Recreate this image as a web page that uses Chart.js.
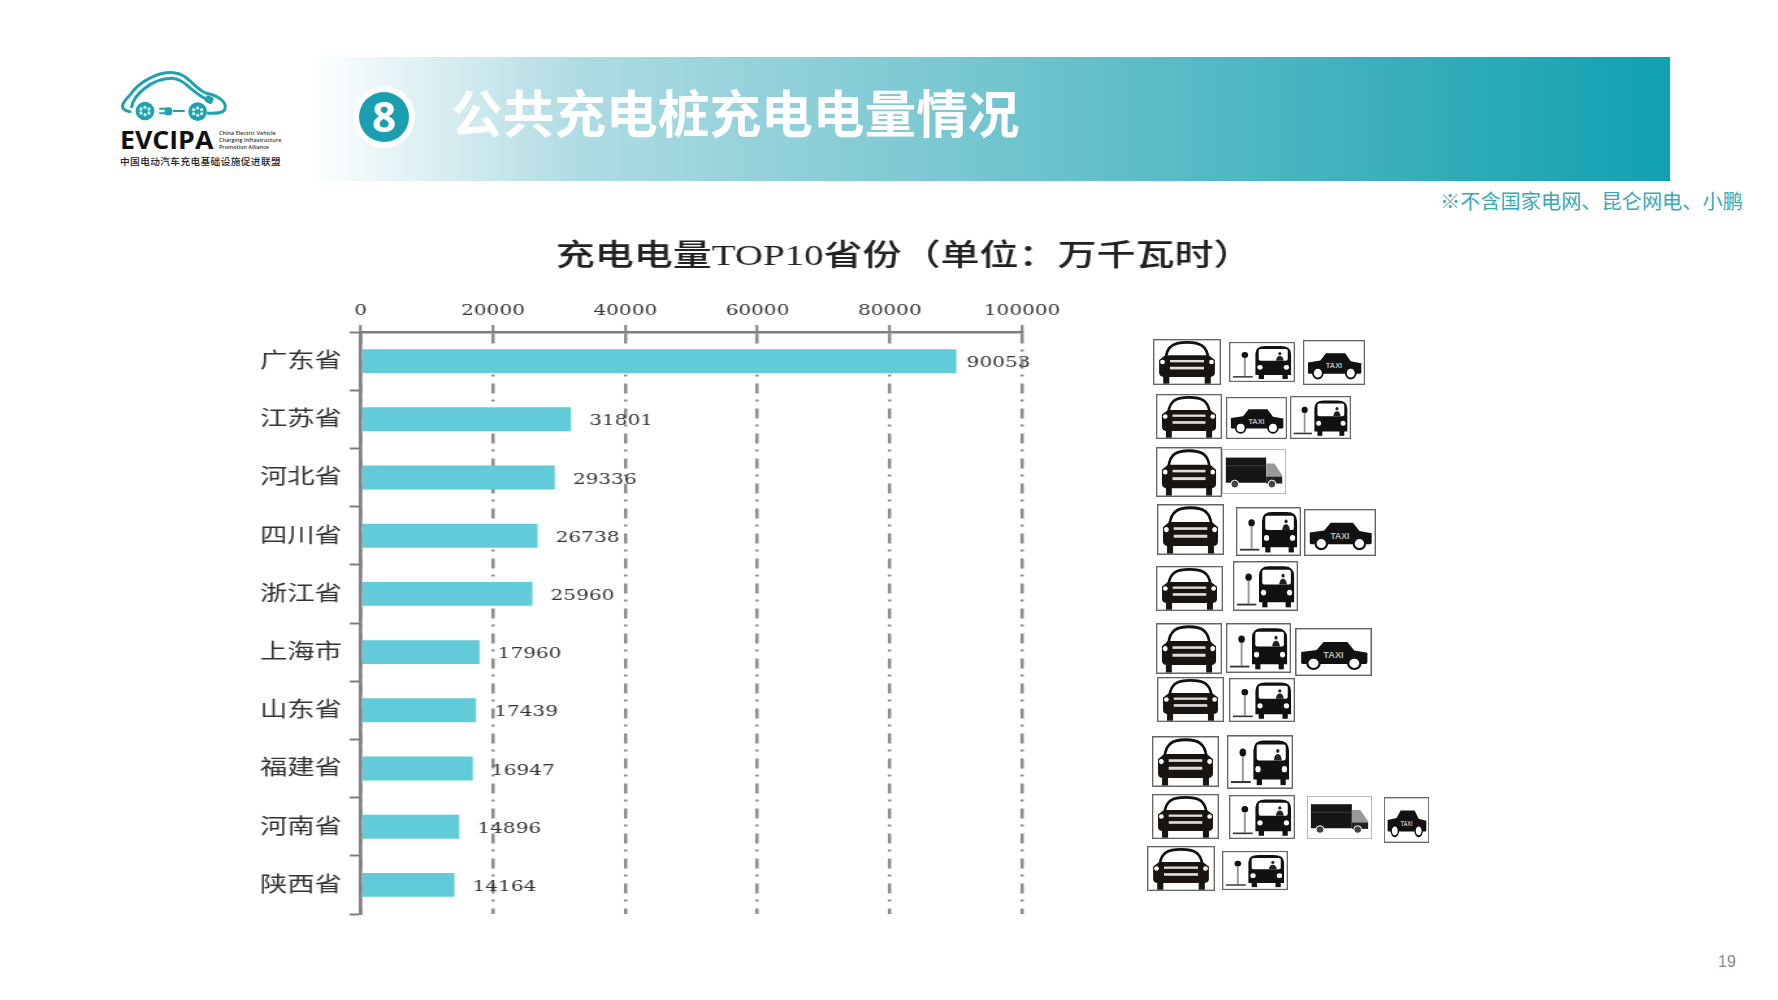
<!DOCTYPE html>
<html lang="zh-CN">
<head>
<meta charset="utf-8">
<title>公共充电桩充电电量情况</title>
<script src="https://cdn.jsdelivr.net/npm/chart.js@4"></script>
<style>
    html, body { margin: 0; width: 1778px; height: 1000px; background: #fff; overflow: hidden; }
    #slide { position: absolute; left: 0; top: 0; }
    #chartWrap { position: absolute; left: 0; top: 0; transform: scaleX(1.3); transform-origin: 0 0; }
    .cjk { font-family: "Noto Sans CJK SC", sans-serif; }
</style>
</head>
<body>
<svg id="slide" width="1778" height="1000" viewBox="0 0 1778 1000" xmlns="http://www.w3.org/2000/svg">
    <defs>
        <linearGradient id="headerFill" x1="0" x2="1" y1="0" y2="0">
            <stop offset="0" stop-color="#ffffff"/>
            <stop offset="0.2" stop-color="#aedbe3"/>
            <stop offset="0.8" stop-color="#38afbb"/>
            <stop offset="1" stop-color="#10a1b1"/>
        </linearGradient>

        <symbol id="car" viewBox="0 0 100 68" preserveAspectRatio="none">
            <rect x="1" y="1" width="98" height="66" fill="#fff" stroke="#666" stroke-width="2"/>
            <path d="M19 27C21 10 31 5 50 5C69 5 79 10 81 27" fill="#fff" stroke="#111" stroke-width="4"/>
            <path d="M18 24H82L91 31V50Q91 55 85 56H15Q9 55 9 50V31Z" fill="#1a1410"/>
            <rect x="15" y="54" width="9" height="12" fill="#1a1410"/>
            <rect x="76" y="54" width="9" height="12" fill="#1a1410"/>
            <circle cx="14" cy="34" r="3.5" fill="#fff"/>
            <circle cx="86" cy="34" r="3.5" fill="#fff"/>
            <rect x="25" y="31" width="50" height="3.5" fill="#ddd"/>
            <rect x="25" y="41" width="50" height="4" fill="#ddd"/>
        </symbol>

        <symbol id="bus" viewBox="0 0 100 68" preserveAspectRatio="none">
            <rect x="1" y="1" width="98" height="66" fill="#fff" stroke="#666" stroke-width="2"/>
            <circle cx="24" cy="22" r="5" fill="#111"/>
            <rect x="22.5" y="27" width="3" height="31" fill="#999"/>
            <rect x="6" y="58" width="30" height="2.5" fill="#333"/>
            <path d="M40 20Q40 7 55 7H78Q94 7 94 20V56H40Z" fill="#111"/>
            <rect x="45" y="12" width="44" height="20" rx="3" fill="#fff"/>
            <circle cx="77" cy="20" r="2.5" fill="#222"/>
            <path d="M71 32Q72 24 77 24Q82 24 83 32Z" fill="#222"/>
            <rect x="45" y="54" width="8" height="9" fill="#111"/>
            <rect x="81" y="54" width="8" height="9" fill="#111"/>
            <circle cx="47" cy="43" r="4" fill="#fff"/>
            <circle cx="87" cy="43" r="4" fill="#fff"/>
        </symbol>

        <symbol id="taxi" viewBox="0 0 100 68" preserveAspectRatio="none">
            <rect x="1" y="1" width="98" height="66" fill="#fff" stroke="#666" stroke-width="2"/>
            <path d="M8 34L28 31L37 20H68L77 32L94 35V49Q94 51 92 51H10Q8 51 8 49Z" fill="#111"/>
            <circle cx="24" cy="50" r="8" fill="#fff" stroke="#111" stroke-width="3"/>
            <circle cx="77" cy="50" r="8" fill="#fff" stroke="#111" stroke-width="3"/>
            <text x="50" y="43" text-anchor="middle" font-size="12" font-family="Liberation Sans" font-weight="700" fill="#bbb">TAXI</text>
        </symbol>

        <symbol id="truck" viewBox="0 0 100 68" preserveAspectRatio="none">
            <rect x="0.5" y="0.5" width="99" height="67" fill="#fff" stroke="#aaa" stroke-width="1.5"/>
            <rect x="6" y="13" width="63" height="38" fill="#161616"/>
            <rect x="6" y="25" width="63" height="1" fill="#555"/>
            <path d="M69 22H82L94 40V52H69Z" fill="#999"/>
            <rect x="69" y="42" width="25" height="10" fill="#222"/>
            <circle cx="20" cy="53" r="6" fill="#444" stroke="#fff" stroke-width="1.5"/>
            <circle cx="78" cy="53" r="6" fill="#444" stroke="#fff" stroke-width="1.5"/>
        </symbol>
    </defs>

    <!-- logo -->
    <g transform="translate(110 60) scale(0.3333)" fill="none" stroke="#1ea2ae" stroke-linecap="round">
        <path stroke-width="9" d="M60 155C25 150 35 130 60 105C90 60 150 35 190 38C235 40 250 85 290 100C330 108 350 130 345 145C345 158 325 160 295 160"/>
        <path stroke-width="9" d="M65 140C70 110 120 55 185 55C225 55 245 100 295 120"/>
        <circle cx="105" cy="153" r="28" fill="#1ea2ae" stroke="none"/>
        <circle cx="263" cy="155" r="28" fill="#1ea2ae" stroke="none"/>
        <g fill="#cfeef0" stroke="none">
            <circle cx="93" cy="147" r="5"/><circle cx="105" cy="142" r="5"/><circle cx="117" cy="147" r="5"/>
            <circle cx="93" cy="159" r="5"/><circle cx="105" cy="164" r="5"/><circle cx="117" cy="159" r="5"/>
            <circle cx="251" cy="149" r="5"/><circle cx="263" cy="144" r="5"/><circle cx="275" cy="149" r="5"/>
            <circle cx="251" cy="161" r="5"/><circle cx="263" cy="166" r="5"/><circle cx="275" cy="161" r="5"/>
        </g>
        <path stroke-width="6" d="M190 153H222M150 146H166M150 160H166"/>
        <rect x="164" y="142" width="22" height="24" rx="8" fill="#1ea2ae" stroke="none"/>
        <rect x="286" y="108" width="24" height="22" rx="7" fill="#1ea2ae" stroke="none" transform="rotate(25 298 119)"/>
    </g>
    <g transform="translate(110 60) scale(0.3333)">
        <text x="30" y="266" font-family="Open Sans" font-weight="700" font-size="76" textLength="280" lengthAdjust="spacingAndGlyphs" fill="#111">EVCIPA</text>
        <g font-family="Open Sans" font-weight="600" font-size="18" fill="#333">
            <text x="327" y="224" textLength="170" lengthAdjust="spacingAndGlyphs">China Electric Vehicle</text>
            <text x="327" y="245" textLength="187" lengthAdjust="spacingAndGlyphs">Charging Infrastructure</text>
            <text x="327" y="266" textLength="150" lengthAdjust="spacingAndGlyphs">Promotion Alliance</text>
        </g>
        <text class="cjk" x="30" y="315" font-size="29" font-weight="500" textLength="482" fill="#222">中国电动汽车充电基础设施促进联盟</text>
    </g>

    <!-- header band -->
    <rect x="310" y="57" width="1360" height="124" fill="url(#headerFill)"/>
    <circle cx="384" cy="117" r="31" fill="#fff"/>
    <circle cx="384" cy="117" r="25" fill="#1a9fb0"/>
    <text x="384" y="132" text-anchor="middle" font-family="Open Sans" font-weight="700" font-size="42" fill="#fff">8</text>
    <text class="cjk" x="451" y="133" font-size="51.7" font-weight="700" fill="#fff">公共充电桩充电电量情况</text>
    <text class="cjk" x="1440" y="209" font-size="20.2" fill="#3ba7b5">※不含国家电网、昆仑网电、小鹏</text>
    <text x="1727" y="967" text-anchor="middle" font-family="Liberation Sans" font-size="16" fill="#8a8a8a">19</text>

    <!-- vehicle type icons, one row per province -->
    <use href="#car" x="1153" y="339" width="68" height="46"/><use href="#bus" x="1229" y="342" width="66" height="40"/><use href="#taxi" x="1303" y="340" width="62" height="45"/>
    <use href="#car" x="1156" y="394" width="66" height="45"/><use href="#taxi" x="1226" y="397" width="61" height="42"/><use href="#bus" x="1290" y="396" width="61" height="43"/>
    <use href="#car" x="1156" y="447" width="66" height="50"/><use href="#truck" x="1222" y="449" width="64" height="45"/>
    <use href="#car" x="1157" y="504" width="67" height="51"/><use href="#bus" x="1236" y="507" width="65" height="49"/><use href="#taxi" x="1304" y="509" width="72" height="47"/>
    <use href="#car" x="1156" y="566" width="67" height="45"/><use href="#bus" x="1233" y="561" width="65" height="50"/>
    <use href="#car" x="1156" y="623" width="66" height="51"/><use href="#bus" x="1226" y="623" width="65" height="50"/><use href="#taxi" x="1295" y="628" width="77" height="48"/>
    <use href="#car" x="1157" y="677" width="67" height="45"/><use href="#bus" x="1229" y="678" width="66" height="44"/>
    <use href="#car" x="1152" y="736" width="67" height="51"/><use href="#bus" x="1227" y="735" width="66" height="54"/>
    <use href="#car" x="1152" y="794" width="67" height="45"/><use href="#bus" x="1229" y="795" width="66" height="44"/><use href="#truck" x="1307" y="796" width="65" height="43"/><use href="#taxi" x="1384" y="797" width="45" height="46"/>
    <use href="#car" x="1147" y="846" width="68" height="45"/><use href="#bus" x="1222" y="851" width="66" height="39"/>
</svg>

<div id="chartWrap"><canvas id="canvasCharge" width="1391" height="1000"></canvas></div>

<script>
"use strict";

const provinces = ['广东省', '江苏省', '河北省', '四川省', '浙江省', '上海市', '山东省', '福建省', '河南省', '陕西省'];
const chargeValues = [90053, 31801, 29336, 26738, 25960, 17960, 17439, 16947, 14896, 14164];
const xTickValues = [0, 20000, 40000, 60000, 80000, 100000];

const chartTitle = '充电电量TOP10省份（单位：万千瓦时）';
const digitFont = '"DejaVu Serif", serif';
const cjkFont = '"Noto Sans CJK SC", sans-serif';
const axisGrey = '#7f7f7f';

// the title is centred on the page, not on the plot
const centreTitle = {
    id: 'centreTitle',
    afterLayout: function (chart) {
        chart.titleBlock.left = 0;
        chart.titleBlock.right = chart.width;
    }
};

const valueLabels = {
    id: 'valueLabels',
    afterDatasetsDraw: function (chart) {
        const ctx = chart.ctx;
        const bars = chart.getDatasetMeta(0).data;
        ctx.save();
        ctx.font = '15.4px ' + digitFont;
        ctx.fillStyle = '#333';
        ctx.textAlign = 'left';
        ctx.textBaseline = 'middle';
        bars.forEach(function (bar, index) {
            const gap = index === 0 ? 8 : 14;
            ctx.fillText(String(chargeValues[index]), bar.x + gap, bar.y + 2);
        });
        ctx.restore();
    }
};

const context = document.getElementById('canvasCharge');
const myChart = new Chart(context, {
    type: 'bar',
    plugins: [centreTitle, valueLabels],
    data: {
        labels: provinces,
        datasets: [{
            label: '充电电量',
            data: chargeValues,
            backgroundColor: '#62cbd9',
            barPercentage: 0.41,
            categoryPercentage: 1
        }]
    },
    options: {
        indexAxis: 'y',
        responsive: false,
        animation: false,
        layout: {
            padding: { left: 0, top: 0, right: 604.8, bottom: 86 }
        },
        plugins: {
            legend: { display: false },
            tooltip: { enabled: false },
            title: {
                display: true,
                text: chartTitle,
                color: '#222',
                font: { family: '"Liberation Serif", ' + cjkFont, size: 30, weight: '500' },
                padding: { top: 239, bottom: 1 }
            }
        },
        scales: {
            x: {
                position: 'top',
                min: 0,
                max: 100000,
                afterFit: function (scale) { scale.height = 56; },
                afterBuildTicks: function (scale) {
                    scale.ticks = xTickValues.map(function (v) { return { value: v }; });
                },
                border: { color: axisGrey, width: 2.5, dash: [10, 6, 2, 7] },
                grid: {
                    color: '#8c8c8c',
                    lineWidth: 2.5,
                    tickColor: axisGrey,
                    tickLength: 7,
                    tickWidth: 2
                },
                ticks: {
                    color: '#333',
                    padding: 5,
                    maxRotation: 0,
                    autoSkip: false,
                    font: { family: digitFont, size: 15.4 },
                    callback: function (value) { return String(value); }
                }
            },
            y: {
                afterFit: function (scale) { scale.width = 277.5; },
                border: { color: axisGrey, width: 2.6 },
                grid: {
                    drawOnChartArea: false,
                    tickColor: axisGrey,
                    tickLength: 8.5,
                    tickWidth: 2
                },
                ticks: {
                    color: '#333',
                    padding: 6,
                    labelOffset: -2,
                    font: { family: cjkFont, size: 21 }
                }
            }
        }
    }
});
</script>
</body>
</html>
